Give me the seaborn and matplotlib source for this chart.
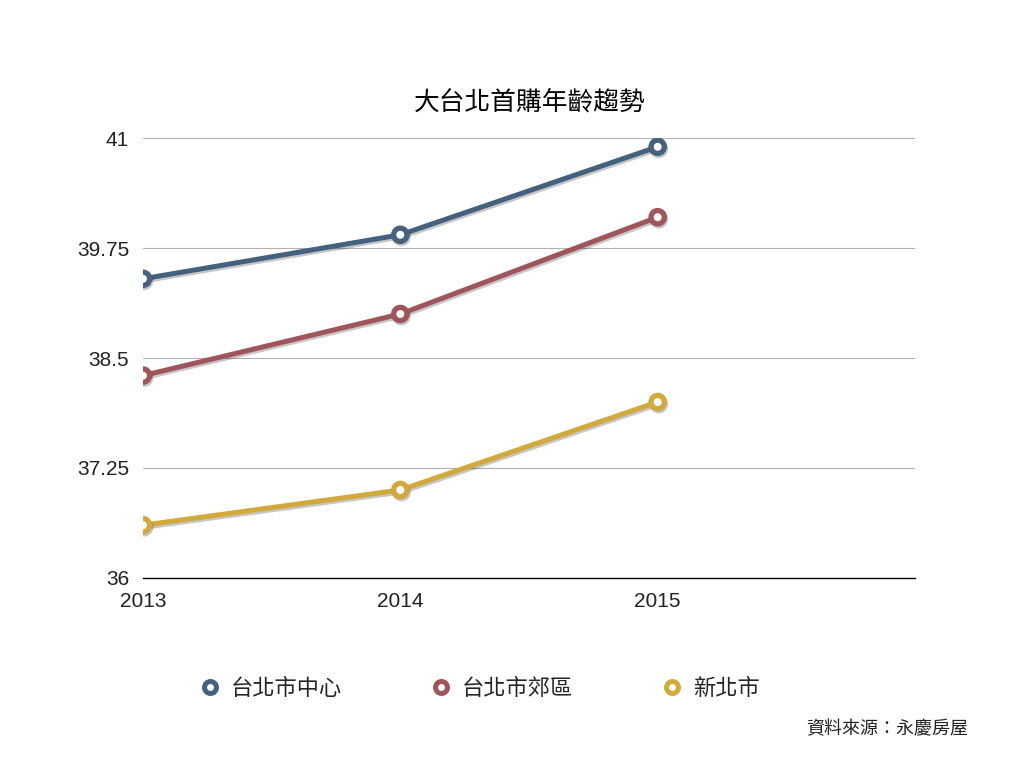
import matplotlib
matplotlib.use("Agg")
import matplotlib.pyplot as plt
import matplotlib.patheffects as pe
from matplotlib.lines import Line2D
import seaborn as sns
import pandas as pd

years = [2013, 2014, 2015]
series_names = ["台北市中心", "台北市郊區", "新北市"]
center = [39.4, 39.9, 40.9]
suburb = [38.3, 39.0, 40.1]
new_taipei = [36.6, 37.0, 38.0]
y_ticks = [36, 37.25, 38.5, 39.75, 41]
y_tick_labels = ["36", "37.25", "38.5", "39.75", "41"]
x_ticks = [2013, 2014, 2015]
title = "大台北首購年齡趨勢"
source = "資料來源：永慶房屋"

colors = ["#44617d", "#a0555b", "#d2a93c"]

df = pd.DataFrame({
    "year": years * 3,
    "value": center + suburb + new_taipei,
    "series": sum([[n] * len(years) for n in series_names], []),
})

sns.set_theme(style="white")
plt.rcParams['font.family'] = ['Liberation Sans', 'Noto Sans CJK TC', 'DejaVu Sans']

fig = plt.figure(figsize=(10.24, 7.68), dpi=100)
ax = fig.add_axes([0.1396, 0.2474, 0.7540, 0.5729])

sns.lineplot(data=df, x="year", y="value", hue="series", palette=colors,
             hue_order=series_names, marker="o", markersize=9.6,
             markerfacecolor="white", markeredgewidth=3.8, linewidth=3.6,
             ax=ax, legend=False)
for i, line in enumerate(ax.get_lines()):
    line.set_markeredgecolor(colors[i % 3])
    line.set_path_effects([pe.SimpleLineShadow(offset=(0.8, -1.5), alpha=0.22, shadow_color="black"), pe.Normal()])

ax.set_xlim(2013, 2016)
ax.set_ylim(36, 41)
ax.set_yticks(y_ticks)
ax.set_yticklabels(y_tick_labels, fontsize=15)
ax.set_xticks(x_ticks)
ax.set_xticklabels([str(x) for x in x_ticks], fontsize=15)
ax.tick_params(axis="y", length=0, pad=10)
ax.tick_params(axis="x", length=0, pad=10)
ax.grid(axis="y", color="#b0b0b0", linewidth=0.8)
ax.set_axisbelow(True)
for s in ["top", "right", "left"]:
    ax.spines[s].set_visible(False)
ax.spines["bottom"].set_color("black")
ax.spines["bottom"].set_linewidth(1.0)
ax.set_xlabel("")
ax.set_ylabel("")
for lbl in ax.get_xticklabels() + ax.get_yticklabels():
    lbl.set_color("#222222")

fig.text(0.517, 0.867, title, ha="center", va="center", fontsize=18.5,
         family=['Noto Sans CJK TC', 'DejaVu Sans'], color="black")

handles = [Line2D([], [], color=c, marker="o", linestyle="none", markersize=8.6,
                  markerfacecolor="white", markeredgewidth=3.6, markeredgecolor=c)
           for c in colors]
fig.legend(handles, series_names, loc="center", bbox_to_anchor=(0.468, 0.104), ncol=3,
           frameon=False, columnspacing=3.93, handletextpad=0.45, handlelength=1.0,
           prop={'family': ['Noto Sans CJK TC', 'DejaVu Sans'], 'size': 16})

fig.text(0.945, 0.05, source, ha="right", va="center", fontsize=13,
         family=['Noto Sans CJK TC', 'DejaVu Sans'], color="#222222")

fig.savefig("out.png", dpi=100)
